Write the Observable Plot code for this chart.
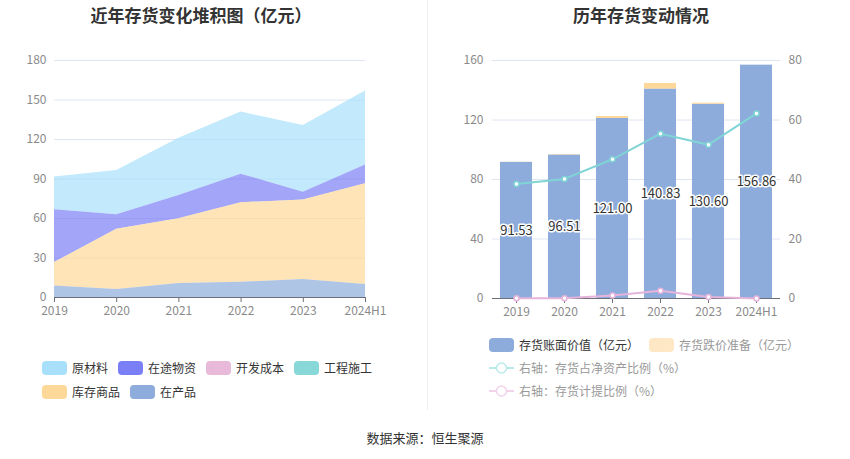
<!DOCTYPE html>
<html>
<head>
<meta charset="utf-8">
<script src="https://cdn.jsdelivr.net/npm/d3@7"></script>
<script src="https://cdn.jsdelivr.net/npm/@observablehq/plot@0.6"></script>
<style>
  html, body { margin: 0; padding: 0; background: #fff; }
  body { width: 850px; height: 459px; position: relative; overflow: hidden;
         font-family: "Noto Sans CJK SC", "Noto Sans", sans-serif; }
  .abs { position: absolute; }
  .title { font-size: 17px; font-weight: bold; color: #333; white-space: nowrap; transform: translateX(-50%); line-height: 1; }
  .lg { position: absolute; font-size: 12px; line-height: 1; white-space: nowrap; }
  .sw { position: absolute; width: 25px; height: 14px; border-radius: 4px; }
</style>
</head>
<body>
<div id="left" class="abs" style="left:0;top:0"></div>
<div id="right" class="abs" style="left:425px;top:0"></div>
<div id="right2" class="abs" style="left:425px;top:0"></div>
<div class="abs" style="left:427px;top:0;width:1px;height:410px;background:#eeeeee"></div>
<div class="abs title" style="left:201px;top:6px">近年存货变化堆积图（亿元）</div>
<div class="abs title" style="left:641px;top:6px">历年存货变动情况</div>
<div id="legendL"></div>
<div id="legendR"></div>
<div class="abs" style="left:425px;top:431px;transform:translateX(-50%);font-size:13px;color:#333;white-space:nowrap;line-height:1">数据来源：恒生聚源</div>
<script>
// ---------- data ----------
const years = ["2019", "2020", "2021", "2022", "2023", "2024H1"];

// left chart (亿元)
const rawMaterial   = [24.8, 33.6, 43.5, 47.1, 50.6, 56.2];  // 原材料
const inTransit     = [40.2, 11.1, 17.7, 21.7, 6.0, 14.3];   // 在途物资
const devCost       = [0, 0, 0, 0, 0, 0];                    // 开发成本
const construction  = [0, 0, 0, 0, 0, 0];                    // 工程施工
const goods         = [17.7, 45.7, 49.2, 60.4, 60.4, 76.6];  // 库存商品
const wip           = [8.8, 6.1, 10.6, 11.6, 13.6, 9.8];     // 在产品

const leftNames  = ["原材料", "在途物资", "开发成本", "工程施工", "库存商品", "在产品"];
const leftColors = ["#a8e0fb", "#7a7ff5", "#e8b9d9", "#88d8d8", "#fdd898", "#8dacdb"];
const stackOrder = ["在产品", "库存商品", "工程施工", "开发成本", "在途物资", "原材料"];
const leftYTicks = [0, 30, 60, 90, 120, 150, 180];

// right chart
const bookValue   = [91.53, 96.51, 121.00, 140.83, 130.60, 156.86]; // 存货账面价值（亿元）
const reserve     = [0.1, 0.3, 1.3, 3.7, 0.7, 0];                   // 存货跌价准备（亿元）
const netAssetPct = [38.5, 40.2, 46.8, 55.4, 51.7, 62.2];           // 存货占净资产比例（%）
const provPct     = [0.1, 0.1, 1.0, 2.6, 0.5, 0];                   // 存货计提比例（%）
const rightYTicks  = [0, 40, 80, 120, 160];
const rightY2Ticks = [0, 20, 40, 60, 80];

// ---------- helpers ----------
const FONT = '"Noto Sans CJK SC", "Noto Sans", sans-serif';
const labelColor = "#8a8a8a";
const axisColor = "#6e7079";
const gridColor = "#e0e6f1";

// ---------- left chart ----------
const seriesVals = {"原材料": rawMaterial, "在途物资": inTransit, "开发成本": devCost,
                    "工程施工": construction, "库存商品": goods, "在产品": wip};
const areaData = leftNames.flatMap(n => years.map((y, i) => ({year: y, series: n, value: seriesVals[n][i]})));

const left = Plot.plot({
  width: 400, height: 320,
  marginLeft: 54, marginRight: 35, marginTop: 60, marginBottom: 23,
  style: {fontSize: "12px", fontFamily: FONT, background: "transparent", overflow: "visible"},
  x: {type: "point", domain: years, padding: 0, round: false, label: null},
  y: {domain: [0, 180], label: null},
  color: {domain: leftNames, range: leftColors},
  marks: [
    Plot.gridY(leftYTicks.slice(1), {stroke: gridColor, strokeOpacity: 1}),
    Plot.areaY(areaData, {x: "year", y: "value", fill: "series", fillOpacity: 0.7, order: stackOrder}),
    Plot.axisY(leftYTicks, {tickSize: 0, tickPadding: 8, label: null, fill: labelColor}),
    Plot.axisX({tickSize: 5, tickPadding: 4, label: null, fill: labelColor, stroke: axisColor}),
    Plot.ruleY([0], {stroke: axisColor})
  ]
});
document.getElementById("left").append(left);

// ---------- right chart: bars ----------
const barData = [
  ...years.map((y, i) => ({year: y, series: "账面", value: bookValue[i]})),
  ...years.map((y, i) => ({year: y, series: "跌价", value: reserve[i]}))
];
const xRight = {type: "band", domain: years, paddingInner: 0.333, paddingOuter: 0.1667, round: false, label: null};
const right = Plot.plot({
  width: 425, height: 320,
  marginLeft: 67, marginRight: 70, marginTop: 60, marginBottom: 22,
  style: {fontSize: "12px", fontFamily: FONT, background: "transparent", overflow: "visible"},
  x: xRight,
  y: {domain: [0, 160], label: null},
  color: {domain: ["账面", "跌价"], range: ["#8dacdb", "#fdd898"]},
  marks: [
    Plot.gridY(rightYTicks.slice(1), {stroke: gridColor, strokeOpacity: 1}),
    Plot.barY(barData, {x: "year", y: "value", fill: "series", order: ["账面", "跌价"]}),
    Plot.text(years, {x: d => d, y: (d, i) => bookValue[i] / 2, text: (d, i) => bookValue[i].toFixed(2),
      fill: "#333", stroke: "white", strokeWidth: 3, fontSize: 13}),
    Plot.axisY(rightYTicks, {tickSize: 0, tickPadding: 9, label: null, fill: labelColor}),
    Plot.axisX({tickSize: 5, tickPadding: 4, label: null, fill: labelColor, stroke: axisColor}),
    Plot.ruleY([0], {stroke: axisColor})
  ]
});
document.getElementById("right").append(right);

// ---------- right chart: lines (right axis) ----------
const lineData = years.map((y, i) => ({year: y, a: netAssetPct[i], b: provPct[i]}));
const right2 = Plot.plot({
  width: 425, height: 320,
  marginLeft: 67, marginRight: 70, marginTop: 60, marginBottom: 22,
  style: {fontSize: "12px", fontFamily: FONT, background: "transparent", overflow: "visible"},
  x: {...xRight, axis: null},
  y: {domain: [0, 80], label: null},
  marks: [
    Plot.lineY(lineData, {x: "year", y: "a", stroke: "#80d4d6", strokeWidth: 2}),
    Plot.dot(lineData, {x: "year", y: "a", r: 2.5, fill: "white", stroke: "#80d4d6", strokeWidth: 1.5}),
    Plot.lineY(lineData, {x: "year", y: "b", stroke: "#e6b3da", strokeWidth: 2}),
    Plot.dot(lineData, {x: "year", y: "b", r: 2.5, fill: "white", stroke: "#e6b3da", strokeWidth: 1.5}),
    Plot.axisY(rightY2Ticks, {anchor: "right", tickSize: 0, tickPadding: 8, label: null, fill: labelColor})
  ]
});
document.getElementById("right2").append(right2);

// ---------- legends ----------
const legL = document.getElementById("legendL");
const leftPos = [[42, 361], [118, 361], [206, 361], [294, 361], [42, 385], [130, 385]];
leftNames.forEach((n, i) => {
  const [x, y] = leftPos[i];
  const sw = document.createElement("div");
  sw.className = "sw"; sw.style.left = x + "px"; sw.style.top = y + "px"; sw.style.background = leftColors[i];
  legL.append(sw);
  const t = document.createElement("div");
  t.className = "lg"; t.style.left = (x + 30) + "px"; t.style.top = (y + 1) + "px"; t.style.color = "#333";
  t.textContent = n; legL.append(t);
});

const legR = document.getElementById("legendR");
function swatch(x, y, color) {
  const sw = document.createElement("div");
  sw.className = "sw"; sw.style.left = x + "px"; sw.style.top = y + "px"; sw.style.background = color;
  legR.append(sw);
}
function lineIcon(x, y, color) {
  const d = document.createElementNS("http://www.w3.org/2000/svg", "svg");
  d.setAttribute("width", 26); d.setAttribute("height", 14);
  d.style.position = "absolute"; d.style.left = x + "px"; d.style.top = y + "px";
  d.innerHTML = `<line x1="0" y1="7" x2="25" y2="7" stroke="${color}" stroke-width="2"/>` +
                `<circle cx="12.5" cy="7" r="5" fill="white" stroke="${color}" stroke-width="1.5"/>`;
  legR.append(d);
}
function label(x, y, text, color) {
  const t = document.createElement("div");
  t.className = "lg"; t.style.left = x + "px"; t.style.top = y + "px"; t.style.color = color;
  t.textContent = text; legR.append(t);
}
swatch(489, 338, "#8dacdb");
label(519, 339, "存货账面价值（亿元）", "#333");
swatch(649, 338, "#fde7c4");
label(679, 339, "存货跌价准备（亿元）", "#999");
lineIcon(489, 361, "#b9eaea");
label(519, 362, "右轴：存货占净资产比例（%）", "#999");
lineIcon(489, 384, "#f2d3ea");
label(519, 385, "右轴：存货计提比例（%）", "#999");
</script>
</body>
</html>
